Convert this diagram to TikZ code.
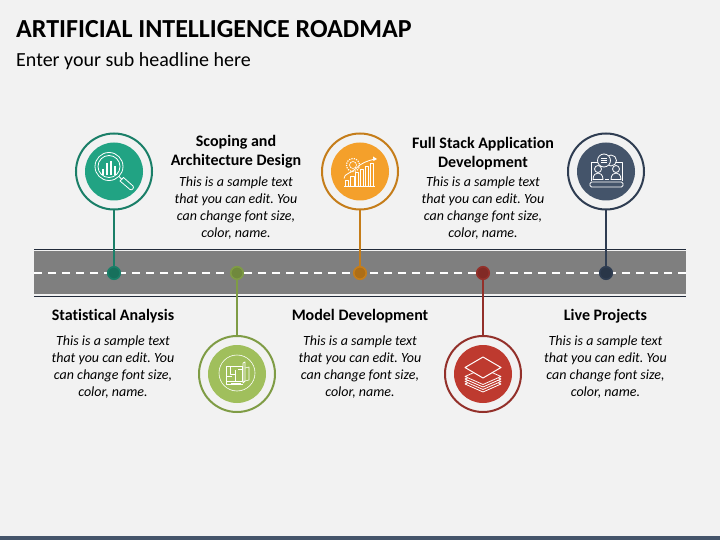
\documentclass[tikz,border=0pt]{standalone}
\usepackage{fontspec}
\setmainfont{Carlito}[Ligatures=NoCommon]
\frenchspacing
\definecolor{bgc}{HTML}{F2F2F2}
\definecolor{roadc}{HTML}{7F7F7F}
\definecolor{edgec}{HTML}{222B3A}
\definecolor{tealA}{HTML}{21A383}\definecolor{tealB}{HTML}{1A7F68}
\definecolor{greenA}{HTML}{A0BF5C}\definecolor{greenB}{HTML}{7F9C45}
\definecolor{orgA}{HTML}{F4A02B}\definecolor{orgB}{HTML}{C57D1A}
\definecolor{redA}{HTML}{BE3A2F}\definecolor{redB}{HTML}{93302A}
\definecolor{navyA}{HTML}{44546A}\definecolor{navyB}{HTML}{2F3D52}
\tikzset{
  disc/.style={circle,inner sep=0pt,minimum size=58pt,fill=#1},
  ring/.style={circle,inner sep=0pt,minimum size=76pt,draw=#1,line width=2pt,fill=bgc},
  dot/.style={circle,inner sep=0pt,minimum size=12.5pt,draw=#1,line width=1.6pt,fill=#1!88!black},
  stem/.style={draw=#1,line width=2pt},
  head/.style={font=\fontsize{16}{19}\selectfont\bfseries,align=center,text=black,inner sep=0pt},
  body/.style={font=\fontsize{14}{17}\selectfont\itshape,align=center,text=black,inner sep=0pt},
  ico/.style={draw=white,line width=0.8pt,line join=round}
}
\begin{document}
\begin{tikzpicture}[x=1pt,y=-1pt]
\useasboundingbox (0,0) rectangle (720,540);
\fill[bgc] (0,0) rectangle (720,540);
\fill[navyA] (0,535.5) rectangle (720,540);
\node[anchor=west,inner sep=0pt,font=\fontsize{26}{30}\selectfont\bfseries] (title) at (16,29) {ARTIFICIAL INTELLIGENCE ROADMAP};
\node[anchor=west,inner sep=0pt,font=\fontsize{20}{24}\selectfont] (sub) at (16,61.5) {Enter your sub headline here};
% road
\fill[roadc] (34,251) rectangle (686,294);
\draw[edgec,line width=1pt] (34,249.5) -- (686,249.5);
\draw[edgec,line width=1pt] (34,296) -- (686,296);
\draw[white,line width=1.6pt,dash pattern=on 8.3pt off 5.7pt] (34,273) -- (686,273);
% rings
\node[ring=tealB] (r1) at (114,171.5) {};
\node[ring=greenB] (r2) at (237,374) {};
\node[ring=orgB] (r3) at (360,171.5) {};
\node[ring=redB] (r4) at (483,374) {};
\node[ring=navyB] (r5) at (606,171.5) {};
\node[disc=tealA] (c1) at (r1) {};
\node[disc=greenA] (c2) at (r2) {};
\node[disc=orgA] (c3) at (r3) {};
\node[disc=redA] (c4) at (r4) {};
\node[disc=navyA] (c5) at (r5) {};
% connectors and dots
\node[dot=tealB] (d1) at (114,273) {};
\node[dot=greenB] (d2) at (237,273) {};
\node[dot=orgB] (d3) at (360,273) {};
\node[dot=redB] (d4) at (483,273) {};
\node[dot=navyB] (d5) at (606,273) {};
\draw[stem=tealB] (r1) -- (d1);
\draw[stem=greenB] (d2) -- (r2);
\draw[stem=orgB] (r3) -- (d3);
\draw[stem=redB] (d4) -- (r4);
\draw[stem=navyB] (r5) -- (d5);
% icon 1: magnifier
\begin{scope}[shift={(114,171.5)}]
\draw[ico] (-5,-5) circle (14);
\draw[ico] (-5,-5) circle (11);
\foreach \xx/\yy in {-11/-2,-7/-8,-3/-10,1/-5}{\draw[white,line width=1.3pt] (\xx,4) -- (\xx,\yy);}
\draw[ico] (5,5) -- (8,8);
\draw[ico] (6,9.5) -- (9.5,6) -- (19,14.5) .. controls (20.5,16) and (18,19.5) .. (16,18) -- cycle;
\end{scope}
% icon 2: blueprint
\begin{scope}[shift={(237,373)}]
\draw[ico,line width=0.6pt] (0,0) circle (18);
\draw[ico] (-11,-7) -- (5,-7) -- (5,8) -- (-11,8) -- cycle;
\draw[ico,line width=0.6pt] (-7,-7) -- (-7,1) -- (-2,1) (-2,-3) -- (-2,8) (1,-4) -- (5,-4) (-11,3) -- (-5,3);
\draw[ico] (6,-10) -- (8,-11) -- (8,8) -- (6,10) -- (6,-10);
\draw[ico,line width=0.6pt] (8,-5) -- (12,-6) -- (12,7) -- (8,8);
\draw[ico] (-11,8) -- (-11,11) -- (6,11);
\draw[white,line width=2pt] (-6,10.5) -- (4,10.5);
\end{scope}
% icon 3: growth chart
\begin{scope}[shift={(360,171.5)}]
\draw[ico] (-16,14.5) -- (15,14.5);
\foreach \xx/\hh in {-13/6,-7.5/10,-3/14,2/17,7/20,12/23}{\draw[ico,line width=0.7pt] (\xx-1.7,14.5) rectangle (\xx+1.7,14.5-\hh);}
\draw[ico] (-16,7) .. controls (-16,2) and (-9,2) .. (-4,-3) .. controls (0,-8) and (8,-11) .. (15,-12.5);
\fill[white] (17,-12.5) -- (13,-15) -- (13.5,-10.5) -- cycle;
\draw[white,line width=1.2pt,dash pattern=on 1.2pt off 1.2pt] (-7,-6.5) circle (6.5);
\draw[ico,line width=0.6pt] (-7,-6.5) circle (3.5);
\end{scope}
% icon 4: layers
\begin{scope}[shift={(483,374)}]
\foreach \yy in {10,7.5,5,2.5}{\draw[ico,fill=redA] (-18,\yy) -- (0,\yy+8) -- (18,\yy) -- (0,\yy-8) -- cycle;}
\draw[ico,fill=redA,line width=1pt] (-18,-6.5) -- (0,4) -- (18,-6.5) -- (0,-17) -- cycle;
\end{scope}
% icon 5: online meeting
\begin{scope}[shift={(606,171.5)}]
\draw[ico] (-15,10) -- (-15,-9.5) -- (-8,-9.5) (10,-9.5) -- (16,-9.5) -- (16,10);
\draw[ico,rounded corners=1.5pt] (-16,10.5) rectangle (17,15.5);
\draw[ico,fill=navyA] (5,-11) circle (5.5);
\draw[ico,fill=navyA] (-2,-11) circle (6.5);
\draw[ico,line width=0.6pt] (-5,-13) -- (1,-13) (-5,-11) -- (1,-11) (-5,-9) -- (1,-9);
\draw[ico] (-8,-2.5) circle (3.5);
\draw[ico] (-13,8) .. controls (-13,3) and (-10,1.5) .. (-8,1.5) .. controls (-6,1.5) and (-3,3) .. (-3,8) -- cycle;
\draw[ico] (10,-2.5) circle (3.5);
\draw[ico] (5,8) .. controls (5,3) and (8,1.5) .. (10,1.5) .. controls (12,1.5) and (15,3) .. (15,8) -- cycle;
\draw[white,line width=1.2pt] (-1,8) -- (3,8);
\end{scope}
% labels
\node[head] (h1) at (113,316) {Statistical Analysis};
\node[body] (b1) at (113,367) {This is a sample text\\that you can edit. You\\can change font size,\\color, name.};
\node[head] (h2) at (236,152) {Scoping and\\Architecture Design};
\node[body] (b2) at (236,208) {This is a sample text\\that you can edit. You\\can change font size,\\color, name.};
\node[head] (h3) at (360,316) {Model Development};
\node[body] (b3) at (360,367) {This is a sample text\\that you can edit. You\\can change font size,\\color, name.};
\node[head] (h4) at (483,154) {Full Stack Application\\Development};
\node[body] (b4) at (483,208) {This is a sample text\\that you can edit. You\\can change font size,\\color, name.};
\node[head] (h5) at (605.5,316) {Live Projects};
\node[body] (b5) at (605.5,367) {This is a sample text\\that you can edit. You\\can change font size,\\color, name.};
\end{tikzpicture}
\end{document}
